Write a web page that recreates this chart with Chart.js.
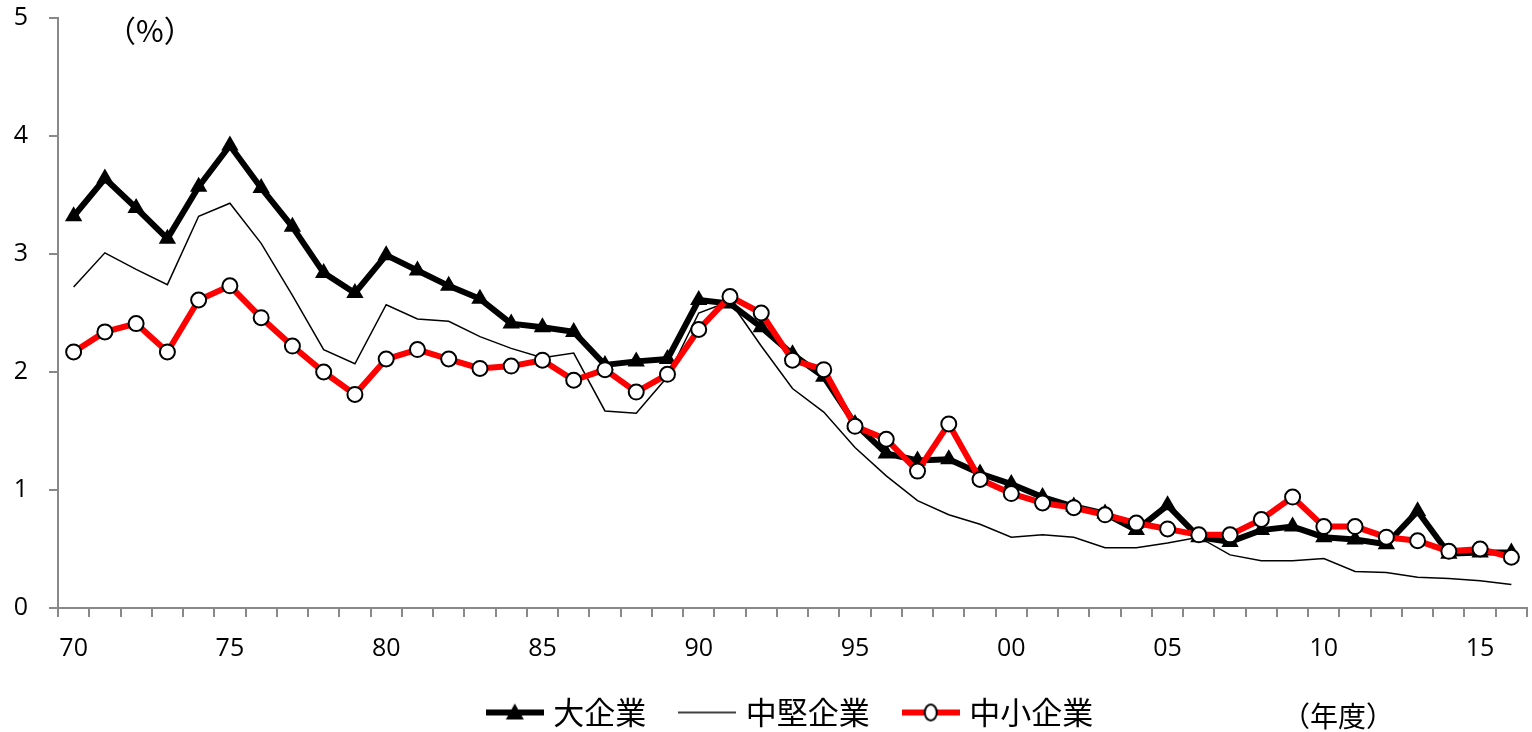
<!DOCTYPE html>
<html>
<head>
<meta charset="utf-8">
<script src="https://cdn.jsdelivr.net/npm/chart.js@4.4.1/dist/chart.umd.min.js"></script>
<style>
  html, body { margin: 0; padding: 0; background: #fff; }
  #wrap { width: 1532px; height: 732px; }
</style>
</head>
<body>
<div id="wrap"><canvas id="rateChart"></canvas></div>
<script>
// fiscal years 1970-2016
const years = [1970,1971,1972,1973,1974,1975,1976,1977,1978,1979,
  1980,1981,1982,1983,1984,1985,1986,1987,1988,1989,
  1990,1991,1992,1993,1994,1995,1996,1997,1998,1999,
  2000,2001,2002,2003,2004,2005,2006,2007,2008,2009,
  2010,2011,2012,2013,2014,2015,2016];
const largeV = [3.32,3.64,3.39,3.13,3.57,3.92,3.56,3.23,2.84,2.67,
  2.99,2.86,2.73,2.62,2.41,2.38,2.34,2.06,2.09,2.11,
  2.61,2.58,2.38,2.15,1.96,1.56,1.31,1.25,1.26,1.14,
  1.05,0.94,0.86,0.80,0.66,0.87,0.60,0.56,0.66,0.69,
  0.60,0.58,0.54,0.82,0.46,0.47,0.47];
const midV = [2.72,3.01,2.87,2.74,3.32,3.43,3.09,2.65,2.19,2.07,
  2.57,2.45,2.43,2.30,2.20,2.12,2.16,1.67,1.65,1.96,
  2.50,2.60,2.22,1.86,1.66,1.36,1.12,0.91,0.79,0.71,
  0.60,0.62,0.60,0.51,0.51,0.55,0.60,0.45,0.40,0.40,
  0.42,0.31,0.30,0.26,0.25,0.23,0.20];
const smallV = [2.17,2.34,2.41,2.17,2.61,2.73,2.46,2.22,2.00,1.81,
  2.11,2.19,2.11,2.03,2.05,2.10,1.93,2.02,1.83,1.98,
  2.36,2.64,2.50,2.10,2.02,1.54,1.43,1.16,1.56,1.09,
  0.97,0.89,0.85,0.79,0.72,0.67,0.62,0.62,0.75,0.94,
  0.69,0.69,0.60,0.57,0.48,0.50,0.43];
const seriesNames = ["大企業", "中堅企業", "中小企業"];

const axisGray = "#898989";
const numFont = "'Open Sans', 'Liberation Sans', sans-serif";
const jpFont = "'Noto Sans CJK JP', sans-serif";

// legend swatch = line + marker (a bit wider than the legend box, so the gap to the text is small)
function swatch(color, lw, marker) {
  const c = document.createElement("canvas");
  c.width = 58; c.height = 22;
  const g = c.getContext("2d");
  g.strokeStyle = color; g.lineWidth = lw;
  g.beginPath(); g.moveTo(0, 11); g.lineTo(58, 11); g.stroke();
  if (marker === "tri") {
    g.fillStyle = "#000";
    g.beginPath(); g.moveTo(29, 2); g.lineTo(38, 18); g.lineTo(20, 18); g.closePath(); g.fill();
  } else if (marker === "circ") {
    g.fillStyle = "#fff"; g.strokeStyle = "#000"; g.lineWidth = 2;
    g.beginPath(); g.ellipse(29, 11, 6, 8, 0, 0, Math.PI * 2); g.fill(); g.stroke();
  }
  return c;
}
const legendIcons = [swatch("#000", 6, "tri"), swatch("#000", 1.5, null), swatch("#ff0000", 6, "circ")];

const unitText = {
  id: "unitText",
  afterDraw(chart) {
    const ctx = chart.ctx;
    ctx.save();
    ctx.fillStyle = "#000";
    ctx.textBaseline = "middle";
    ctx.font = "30px " + jpFont;
    ctx.fillText("（%）", 106, 31);
    ctx.font = "28px " + jpFont;
    ctx.fillText("（年度）", 1282, 716);
    ctx.restore();
  }
};

const myChart = new Chart("rateChart", {
  type: "line",
  data: {
    labels: years,
    datasets: [{
      label: seriesNames[0], data: largeV, borderColor: "#000", backgroundColor: "#000",
      borderWidth: 6, pointStyle: "triangle", pointRadius: 10, pointBorderWidth: 0,
      pointBackgroundColor: "#000", order: 1
    }, {
      label: seriesNames[1], data: midV, borderColor: "#000", borderWidth: 1.5, pointRadius: 0, order: 2
    }, {
      label: seriesNames[2], data: smallV, borderColor: "#ff0000", borderWidth: 6, pointStyle: "circle",
      pointRadius: 7.5, pointBorderWidth: 2, pointBorderColor: "#000", pointBackgroundColor: "#fff", order: 0
    }]
  },
  options: {
    responsive: true,
    maintainAspectRatio: false,
    animation: false,
    layout: { autoPadding: false, padding: { top: 0, right: 0, left: 0, bottom: -6 } },
    plugins: {
      tooltip: { enabled: false },
      legend: {
        position: "bottom",
        fullSize: false,
        labels: {
          usePointStyle: true, pointStyleWidth: 46, boxHeight: 22, padding: 38, color: "#000",
          font: { family: jpFont, size: 31 },
          generateLabels: (chart) => seriesNames.map((n, i) => ({
            text: n, datasetIndex: i, pointStyle: legendIcons[i],
            fillStyle: "#000", strokeStyle: "#000", lineWidth: 0
          }))
        }
      }
    },
    scales: {
      x: {
        offset: true,
        afterFit: (s) => { s.height = 51; s.paddingRight = 5; s.paddingLeft = 0; },
        grid: { offset: true, drawOnChartArea: false, tickLength: 9, color: axisGray, lineWidth: 2 },
        border: { color: axisGray, width: 2 },
        ticks: {
          autoSkip: false, maxRotation: 0, color: "#000", padding: 17,
          font: { family: numFont, size: 25 },
          callback: (v, i) => i % 5 === 0 ? String(years[i]).slice(2) : ""
        }
      },
      y: {
        min: 0, max: 5,
        afterFit: (s) => { s.width = 58; s.paddingTop = 18; s.paddingBottom = 0; },
        grid: { drawOnChartArea: false, tickLength: 9, color: axisGray, lineWidth: 2 },
        border: { color: axisGray, width: 2 },
        ticks: { stepSize: 1, color: "#000", padding: 21, font: { family: numFont, size: 25 } }
      }
    }
  },
  plugins: [unitText]
});
</script>
</body>
</html>
